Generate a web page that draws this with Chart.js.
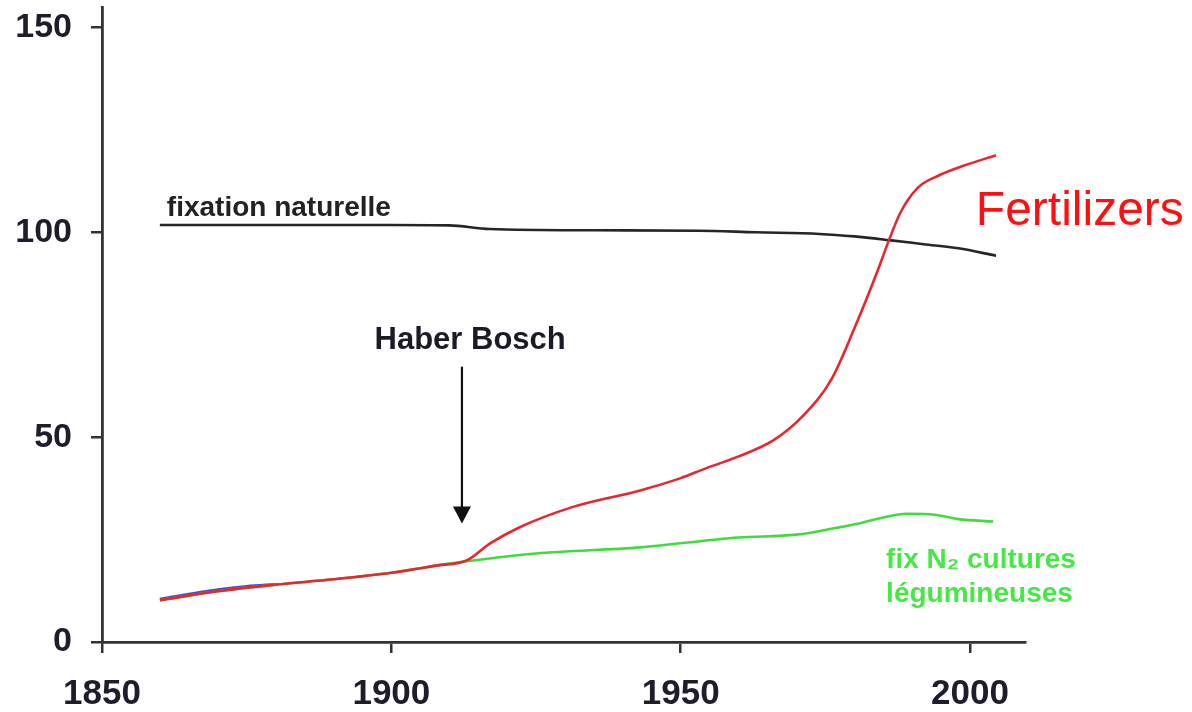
<!DOCTYPE html>
<html>
<head>
<meta charset="utf-8">
<script src="https://cdn.jsdelivr.net/npm/chart.js@4/dist/chart.umd.min.js"></script>
<style>
  html, body { margin: 0; padding: 0; background: #ffffff; }
  #wrap { width: 1192px; height: 712px; position: relative; }
</style>
</head>
<body>
<div id="wrap"><canvas id="c" width="1192" height="712"></canvas></div>
<script>
// ---- data ----
const xTicks = [1850, 1900, 1950, 2000];
const yTicks = [0, 50, 100, 150];

const fertYears  = [1860, 1870, 1880, 1890, 1900, 1908, 1913, 1917, 1922, 1931, 1943, 1950, 1954, 1960, 1966, 1971, 1976, 1980, 1984, 1986, 1988, 1991, 1994.5, 1999, 2004.5];
const fertValues = [10.2, 12.4, 14.0, 15.3, 16.9, 18.7, 19.9, 24.0, 27.9, 32.8, 37.0, 40.0, 42.2, 45.3, 49.2, 55.0, 64.0, 76.5, 90.5, 98.1, 104.9, 110.9, 113.8, 116.3, 118.8];

const legYears  = [1860, 1870, 1880, 1890, 1900, 1908, 1913, 1925, 1943, 1960, 1970, 1977, 1981, 1985, 1989, 1993, 1998, 2004];
const legValues = [10.2, 12.4, 14.0, 15.3, 16.9, 18.7, 19.7, 21.6, 23.1, 25.5, 26.2, 27.9, 29.0, 30.4, 31.3, 31.2, 30.0, 29.4];

const natYears  = [1860, 1880, 1900, 1910, 1917, 1935, 1953, 1963, 1974, 1980, 1986, 1992, 1998, 2004.5];
const natValues = [101.8, 101.8, 101.8, 101.7, 100.8, 100.5, 100.4, 100.0, 99.6, 99.0, 98.1, 97.1, 96.1, 94.3];

const blueYears  = [1860, 1865, 1870, 1875, 1880];
const blueValues = [10.5, 11.7, 12.8, 13.6, 14.1];

const seriesNames = ['Fertilizers', 'fix N₂ cultures légumineuses', 'fixation naturelle', 'total'];

function pts(xs, ys) { return xs.map((x, i) => ({ x: x, y: ys[i] })); }

const FONT = '"Liberation Sans", Arial, Helvetica, sans-serif';
const AXIS = '#333333';
const TICKTXT = '#1d1d2b';

// annotation plugin: texts and arrow anchored in data units
const annot = {
  id: 'annot',
  afterDraw(chart) {
    const ctx = chart.ctx;
    const xs = chart.scales.x, ys = chart.scales.y;
    const X = v => xs.getPixelForValue(v), Y = v => ys.getPixelForValue(v);
    ctx.save();
    ctx.textBaseline = 'alphabetic';
    ctx.textAlign = 'left';

    ctx.fillStyle = '#222222';
    ctx.font = 'bold 28px ' + FONT;
    ctx.fillText('fixation naturelle', X(1861.2), Y(104.1));

    ctx.fillStyle = '#1b1b28';
    ctx.font = 'bold 31px ' + FONT;
    ctx.fillText('Haber Bosch', X(1897.1), Y(71.4));

    // arrow
    const ax = X(1912.2), ay0 = Y(67.2), ay1 = Y(28.9);
    ctx.strokeStyle = '#111111';
    ctx.lineWidth = 2.2;
    ctx.beginPath();
    ctx.moveTo(ax, ay0);
    ctx.lineTo(ax, ay1 - 14);
    ctx.stroke();
    ctx.fillStyle = '#111111';
    ctx.beginPath();
    ctx.moveTo(ax - 9, ay1 - 17);
    ctx.lineTo(ax + 9, ay1 - 17);
    ctx.lineTo(ax, ay1);
    ctx.closePath();
    ctx.fill();

    ctx.fillStyle = '#ff1010';
    ctx.font = '48px ' + FONT;
    ctx.fillText('Fertilizers', X(2001.0), Y(101.9));

    ctx.fillStyle = '#45e845';
    ctx.font = 'bold 28px ' + FONT;
    ctx.fillText('fix N₂ cultures', X(1985.5), Y(18.0));
    ctx.fillText('légumineuses', X(1985.5), Y(9.7));
    ctx.restore();
  }
};

const common = { pointRadius: 0, borderWidth: 2.6, fill: false, cubicInterpolationMode: 'monotone' };

new Chart(document.getElementById('c'), {
  type: 'line',
  data: {
    datasets: [
      Object.assign({ label: seriesNames[0], data: pts(fertYears, fertValues), borderColor: '#e8262e', order: 0 }, common),
      Object.assign({ label: seriesNames[1], data: pts(legYears, legValues), borderColor: '#3fdc3f', order: 1 }, common),
      Object.assign({ label: seriesNames[3], data: pts(blueYears, blueValues), borderColor: '#4848c8', order: 2 }, common),
      Object.assign({ label: seriesNames[2], data: pts(natYears, natValues), borderColor: '#262626', order: 3 }, common)
    ]
  },
  options: {
    responsive: false,
    animation: false,
    events: [],
    layout: { autoPadding: false, padding: { left: 0, right: 167, top: 7, bottom: 0 } },
    plugins: { legend: { display: false }, tooltip: { enabled: false } },
    scales: {
      x: {
        type: 'linear',
        min: 1850,
        max: 2009.5,
        afterBuildTicks(s) { s.ticks = xTicks.map(v => ({ value: v })); },
        afterFit(s) { s.height = 70; s.paddingLeft = 0; s.paddingRight = 0; },
        grid: { drawOnChartArea: false, drawTicks: true, tickLength: 11, color: AXIS, lineWidth: 2.5 },
        border: { display: true, color: AXIS, width: 2.8 },
        ticks: {
          color: TICKTXT, padding: 20, maxRotation: 0, autoSkip: false,
          font: { family: FONT, size: 35, weight: 'bold' },
          callback: v => String(v)
        }
      },
      y: {
        type: 'linear',
        min: 0,
        max: 155,
        afterBuildTicks(s) { s.ticks = yTicks.map(v => ({ value: v })); },
        afterFit(s) { s.width = 102; s.paddingTop = 0; s.paddingBottom = 0; },
        grid: { drawOnChartArea: false, drawTicks: true, tickLength: 11, color: AXIS, lineWidth: 2.5 },
        border: { display: true, color: AXIS, width: 2.8 },
        ticks: {
          color: TICKTXT, padding: 19,
          font: { family: FONT, size: 34, weight: 'bold' },
          callback: v => String(v)
        }
      }
    }
  },
  plugins: [annot]
});
</script>
</body>
</html>
